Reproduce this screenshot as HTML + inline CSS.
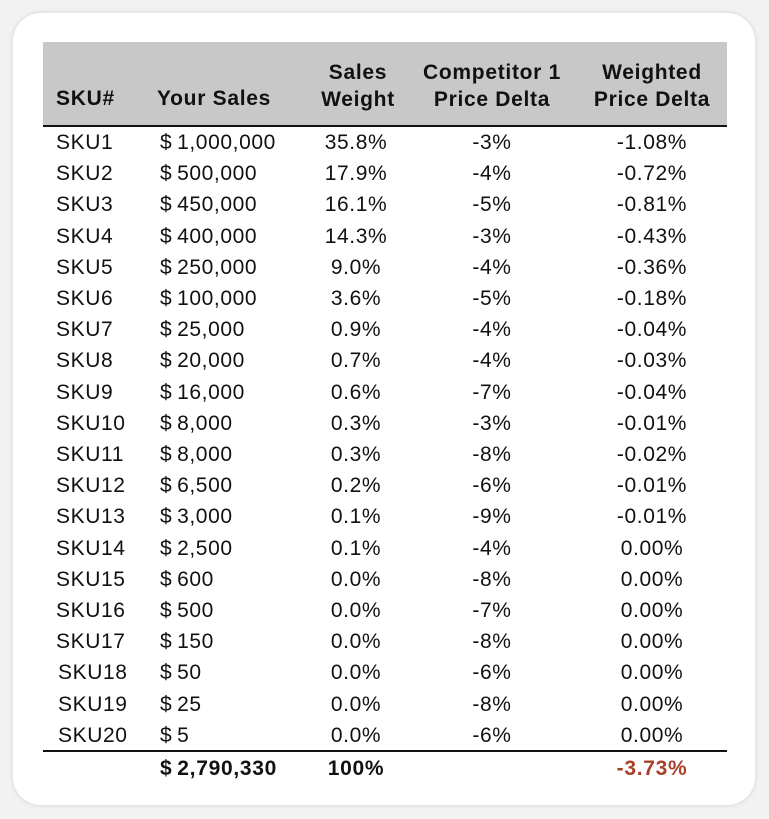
<!DOCTYPE html>
<html><head><meta charset="utf-8"><style>
html,body{margin:0;padding:0;width:769px;height:819px;background:#f2f2f2;overflow:hidden}
.card{position:absolute;left:13px;top:13px;width:742px;height:792px;background:#fff;border-radius:28px;box-shadow:0 0 6px rgba(0,0,0,0.12)}
.hdr{position:absolute;left:43px;top:42px;width:684px;height:83px;background:#c8c8c8;border-bottom:2px solid #111}
.t{position:absolute;font-family:"Liberation Sans",sans-serif;font-size:21px;letter-spacing:0.6px;color:#111;white-space:nowrap;line-height:24px}
.b{font-weight:bold;letter-spacing:0.7px}
.c{transform:translateX(-50%);text-align:center}
.line{position:absolute;left:43px;width:684px;top:750px;height:2px;background:#111}
</style></head><body>
<div class="card"></div>
<div class="hdr"></div>
<div class="t b" style="left:56px;top:87px">SKU#</div>
<div class="t b" style="left:157px;top:87px">Your Sales</div>
<div class="t b c" style="left:358px;top:59px;line-height:27px">Sales<br>Weight</div>
<div class="t b c" style="left:492px;top:59px;line-height:27px">Competitor 1<br>Price Delta</div>
<div class="t b c" style="left:652px;top:59px;line-height:27px">Weighted<br>Price Delta</div>
<div id="rows"></div>
<div class="line"></div>
<div class="t b" style="left:160px;top:757px">$&#8201;2,790,330</div>
<div class="t b c" style="left:356px;top:757px">100%</div>
<div class="t b c" style="left:652px;top:757px;color:#a8402a">-3.73%</div>
<script>
var d=[["SKU1","1,000,000","35.8%","-3%","-1.08%"],["SKU2","500,000","17.9%","-4%","-0.72%"],["SKU3","450,000","16.1%","-5%","-0.81%"],["SKU4","400,000","14.3%","-3%","-0.43%"],["SKU5","250,000","9.0%","-4%","-0.36%"],["SKU6","100,000","3.6%","-5%","-0.18%"],["SKU7","25,000","0.9%","-4%","-0.04%"],["SKU8","20,000","0.7%","-4%","-0.03%"],["SKU9","16,000","0.6%","-7%","-0.04%"],["SKU10","8,000","0.3%","-3%","-0.01%"],["SKU11","8,000","0.3%","-8%","-0.02%"],["SKU12","6,500","0.2%","-6%","-0.01%"],["SKU13","3,000","0.1%","-9%","-0.01%"],["SKU14","2,500","0.1%","-4%","0.00%"],["SKU15","600","0.0%","-8%","0.00%"],["SKU16","500","0.0%","-7%","0.00%"],["SKU17","150","0.0%","-8%","0.00%"],["SKU18","50","0.0%","-6%","0.00%"],["SKU19","25","0.0%","-8%","0.00%"],["SKU20","5","0.0%","-6%","0.00%"]];
var h="";
d.forEach(function(r,i){var y=131+i*31.2;var sx=i>=17?58:56;
h+='<div class="t" style="left:'+sx+'px;top:'+y+'px">'+r[0]+'</div>';
h+='<div class="t" style="left:160px;top:'+y+'px">$&#8201;'+r[1]+'</div>';
h+='<div class="t c" style="left:356px;top:'+y+'px">'+r[2]+'</div>';
h+='<div class="t c" style="left:492px;top:'+y+'px">'+r[3]+'</div>';
h+='<div class="t c" style="left:652px;top:'+y+'px">'+r[4]+'</div>';});
document.getElementById("rows").innerHTML=h;
</script>
</body></html>
